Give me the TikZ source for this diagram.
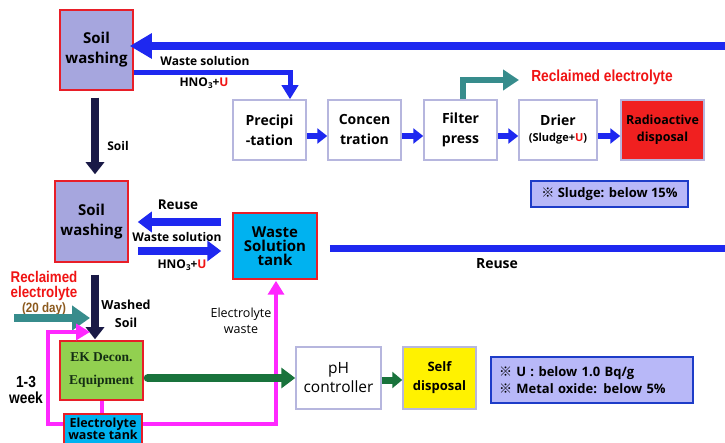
\documentclass[tikz,border=0pt]{standalone}
\usepackage{fontspec}
\setmainfont{Open Sans}
\newfontfamily\cjk{Noto Sans CJK KR}
\newfontfamily\condfont[FakeStretch=0.86]{Liberation Sans}
\newfontfamily\serifb{Liberation Serif}
\usetikzlibrary{arrows.meta}
\definecolor{bl}{RGB}{30,40,240}
\definecolor{lav}{RGB}{166,166,222}
\definecolor{redb}{RGB}{232,30,40}
\definecolor{pbord}{RGB}{182,182,222}
\definecolor{cyanT}{RGB}{0,178,240}
\definecolor{ekg}{RGB}{146,208,80}
\definecolor{navy}{RGB}{25,25,70}
\definecolor{tealA}{RGB}{55,140,140}
\definecolor{dgreen}{RGB}{25,115,60}
\definecolor{mag}{RGB}{255,40,255}
\definecolor{noteF}{RGB}{184,184,248}
\definecolor{noteB}{RGB}{30,60,200}
\definecolor{brownT}{RGB}{140,90,30}
\definecolor{redT}{RGB}{240,20,20}
\definecolor{radF}{RGB}{240,32,32}
\definecolor{ekT}{RGB}{20,45,20}
\newcommand{\hno}{HNO{\fontsize{8}{9}\selectfont\raisebox{-2.5pt}{3}}+\textcolor{redT}{U}}
\newcommand{\kome}{{\cjk ※}}
\tikzset{
  redbox/.style={draw=redb, line width=1.5pt, align=center, inner sep=0pt},
  procbox/.style={draw=pbord, line width=1.5pt, fill=white, align=center, inner sep=0pt,
    font=\bfseries\fontsize{14}{20}\selectfont},
  notebox/.style={draw=noteB, line width=1.2pt, fill=noteF, inner sep=0pt, font=\bfseries\fontsize{13}{17}\selectfont},
  lbl/.style={font=\bfseries\fontsize{12}{13}\selectfont, inner sep=0pt, align=center},
  bigblue/.style={draw=bl, line width=8pt, -{Triangle[length=22pt,width=24pt]}},
  midblue/.style={draw=bl, line width=8pt, -{Triangle[length=14pt,width=20pt]}},
  thinblue/.style={draw=bl, line width=5pt, -{Triangle[length=14pt,width=16pt]}},
  procarrow/.style={draw=bl, line width=6pt, -{Triangle[length=10pt,width=15pt]}},
  navyarrow/.style={draw=navy, line width=8pt, -{Triangle[length=12pt,width=18pt]}},
  tealarrow/.style={draw=tealA, line width=6pt, -{Triangle[length=16pt,width=20pt]}},
  magarrow/.style={draw=mag, line width=4pt, -{Triangle[length=14pt,width=16pt]}},
  greenarrow/.style={draw=dgreen, line width=8pt, -{Triangle[length=14pt,width=20pt]}},
}
\begin{document}
\begin{tikzpicture}[x=1pt,y=-1pt]
\clip (0,0) rectangle (725,443);
\fill[white] (0,0) rectangle (725,443);

% nodes
\node[redbox, fill=lav, minimum width=73pt, minimum height=80pt, font=\bfseries\fontsize{15}{20}\selectfont] (sw1) at (96.5,50) {Soil\\washing};
\node[procbox, minimum width=73pt, minimum height=60pt] (prec) at (269.5,130) {Precipi\\-tation};
\node[procbox, minimum width=73pt, minimum height=60pt] (conc) at (364.5,130) {Concen\\tration};
\node[procbox, minimum width=73pt, minimum height=60pt] (filt) at (460.5,130) {Filter\\press};
\node[procbox, minimum width=78pt, minimum height=60pt] (drier) at (558,130) {Drier\\[-4pt]{\fontsize{11}{13}\selectfont(Sludge+\textcolor{redT}{U})}};
\node[procbox, fill=radF, minimum width=83pt, minimum height=60pt, font=\bfseries\fontsize{12.5}{17}\selectfont] (rad) at (662.5,130) {Radioactive\\disposal};
\node[notebox, minimum width=157pt, minimum height=26pt] (sludge) at (609.5,194) {\kome\ Sludge: below 15\%};

\node[redbox, fill=lav, minimum width=73pt, minimum height=81pt, font=\bfseries\fontsize{15}{20}\selectfont] (sw2) at (91.5,221.5) {Soil\\washing};
\node[redbox, fill=cyanT, minimum width=84pt, minimum height=66pt, font=\bfseries\fontsize{15}{14}\selectfont] (tank) at (275,246) {Waste\\Solution\\tank};
\node[redbox, fill=ekg, minimum width=83pt, minimum height=59pt, font=\serifb\bfseries\fontsize{13.5}{23}\selectfont, text=ekT] (ek) at (101.5,370.5) {EK Decon.\\Equipment};
\node[redbox, fill=cyanT, minimum width=78pt, minimum height=30pt, font=\bfseries\fontsize{12.5}{12.5}\selectfont] (etank) at (103,429) {Electrolyte\\waste tank};
\node[procbox, minimum width=85pt, minimum height=62pt, font=\fontsize{15.5}{19}\selectfont] (ph) at (338.5,378) {pH\\controller};
\node[procbox, fill=yellow, minimum width=73pt, minimum height=62pt, font=\bfseries\fontsize{13}{19}\selectfont] (self) at (439.5,378) {Self\\disposal};
\node[notebox, minimum width=202pt, minimum height=46pt, align=left, text width=186pt] (note) at (592,380) {\kome\ U : below 1.0 Bq/g\\\kome\ Metal oxide: below 5\%};

% labels
\node[lbl] (lws1) at (205,61) {Waste solution};
\node[lbl] (lhno1) at (204,83) {\hno};
\node[lbl] (lsoil) at (118,146) {Soil};
\node[font=\condfont\bfseries\fontsize{16}{17}\selectfont, text=redT, inner sep=0pt] (recltxt) at (602,77) {Reclaimed electrolyte};
\node[lbl, font=\bfseries\fontsize{13.5}{14}\selectfont] (lreuse1) at (178,205) {Reuse};
\node[lbl] (lws2) at (177,237) {Waste solution};
\node[lbl] (lhno2) at (182,265) {\hno};
\node[lbl, font=\bfseries\fontsize{14}{14}\selectfont] (lreuse2) at (497,264) {Reuse};
\node[font=\condfont\bfseries\fontsize{15.5}{15}\selectfont, text=redT, align=center, inner sep=0pt] (lrecl) at (44,286) {Reclaimed\\electrolyte};
\node[font=\condfont\bfseries\fontsize{13.5}{14}\selectfont, text=brownT, inner sep=0pt] (l20) at (44,309) {(20 day)};
\node[lbl, font=\bfseries\fontsize{12.5}{18}\selectfont] (lwashed) at (126,314) {Washed\\Soil};
\node[lbl, font=\fontsize{12.5}{16}\selectfont] (lelw) at (241,321) {Electrolyte\\waste};
\node[font=\condfont\bfseries\fontsize{16}{16}\selectfont, align=center, inner sep=0pt] (lweek) at (26,390) {1-3\\week};

% coordinates for free ends
\coordinate (r1) at (725,46);
\coordinate (r2) at (725,249);
\coordinate (reclend) at (519,80);
\coordinate (t0) at (14,318);
\coordinate (t1) at (90,318);
\coordinate (mloop) at (48,332);
\coordinate (mtip) at (90,332);

% connectors
\draw[bigblue, shorten >=-4pt] (r1) -- (sw1.east |- r1);
\draw[thinblue] ([yshift=-23pt]sw1.east) -| ([xshift=20.5pt]prec.north);
\draw[navyarrow, shorten <=7pt, shorten >=6pt] ([xshift=-1.5pt]sw1.south) -- ([xshift=3.5pt]sw2.north);
\foreach \a/\b in {prec/conc, conc/filt, filt/drier, drier/rad}
  \draw[procarrow] ([yshift=-6pt]\a.east) -- ([yshift=-6pt]\b.west);
\draw[tealarrow] ([xshift=2.5pt]filt.north) |- (reclend);

\draw[midblue, shorten <=11pt, shorten >=9pt] ([yshift=24pt]tank.west) -- ([yshift=24pt]tank.west -| sw2.east);
\draw[midblue, shorten <=9pt, shorten >=11pt] ([yshift=-5pt]tank.west -| sw2.east) -- ([yshift=-5pt]tank.west);
\draw[draw=bl, line width=7pt, shorten <=12pt] ([yshift=-3pt]tank.east) -- (r2);

\draw[tealarrow, line width=8pt, -{Triangle[length=18pt,width=24pt]}] (t0) -- (t1);
\draw[navyarrow, shorten <=12pt, shorten >=1pt] ([xshift=3.5pt]sw2.south) -- ([xshift=-6.5pt]ek.north);

\draw[draw=mag, line width=4pt] (ek.south) -- (etank.north -| ek.south);
\draw[magarrow] ([yshift=5pt]etank.west) -| (mloop) -- (mtip);
\draw[magarrow, shorten >=1pt] ([yshift=5pt]etank.east) -| ([xshift=1pt]tank.south);

\draw[greenarrow, line cap=round, shorten <=4pt] ([yshift=-7.5pt]ek.east) -- ([yshift=-7.5pt]ek.east -| ph.west);
\draw[greenarrow, line width=7pt, -{Triangle[length=10pt,width=16pt]}] ([yshift=-2pt]ph.east) -- ([yshift=-2pt]self.west);
\end{tikzpicture}
\end{document}
